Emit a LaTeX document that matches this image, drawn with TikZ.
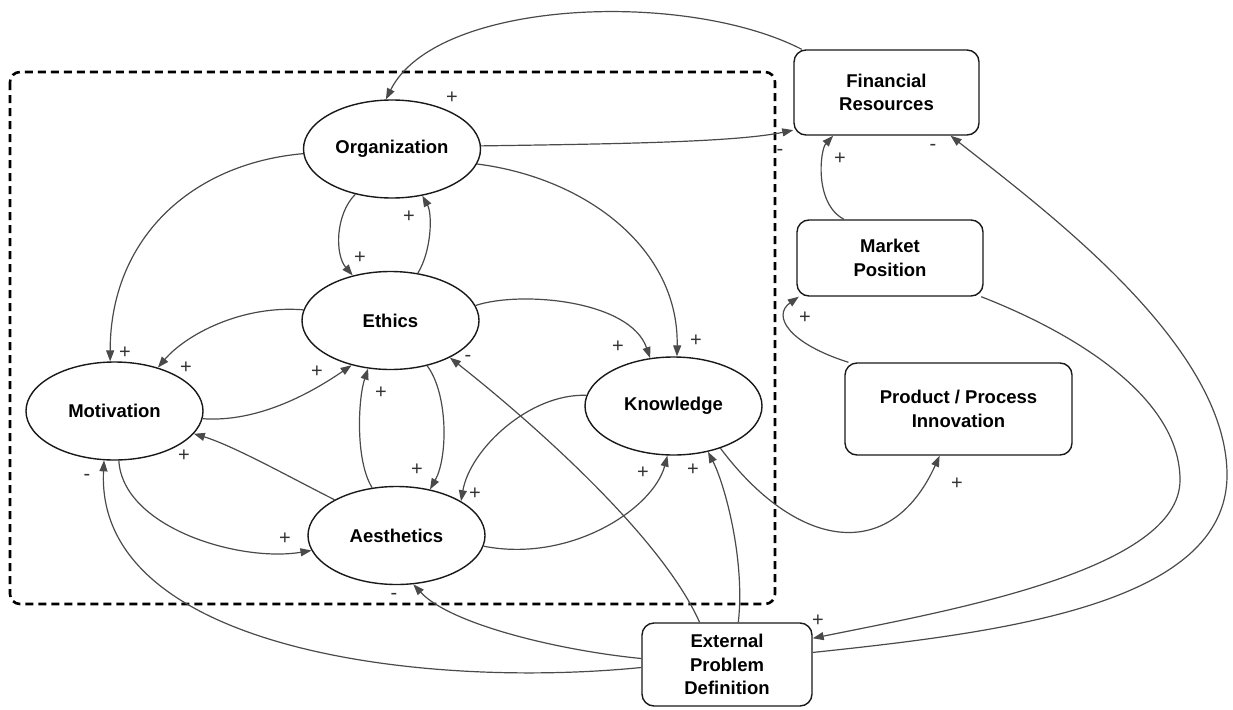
\documentclass[tikz,border=0pt]{standalone}
\usepackage{fontspec}
\setmainfont{Liberation Sans}
\usetikzlibrary{shapes.geometric,arrows.meta}
\definecolor{edgegray}{HTML}{4A4A4A}
\definecolor{signgray}{HTML}{333333}
\begin{document}
\begin{tikzpicture}[x=1pt,y=-1pt,
  factor/.style={ellipse,draw=black!90,line width=1.4pt,minimum width=177pt,minimum height=98pt,
    inner sep=0pt,font=\fontsize{18.5}{22}\selectfont\bfseries},
  boxnode/.style={rectangle,rounded corners=12pt,draw=black!90,line width=1.4pt,inner sep=0pt,
    align=center,font=\fontsize{18.5}{23.5}\selectfont\bfseries},
  link/.style={draw=edgegray,line width=1.2pt,-{Triangle[length=11pt,width=8pt]}},
  sign/.style={text=signgray,font=\fontsize{20}{20}\selectfont,inner sep=0pt},
  frame/.style={draw=black,line width=2.6pt,dash pattern=on 8pt off 5pt,rounded corners=10pt},
]
\useasboundingbox[fill=white] (0,0) rectangle (1233,709);

% internal system boundary
\draw[frame] (10,72) rectangle (775,604);

% internal factors
\node[factor] (org)  at (392,149)   {Organization};
\node[factor] (eth)  at (390.5,320.5) {Ethics};
\node[factor] (mot)  at (114.5,411) {Motivation};
\node[factor] (know) at (673.5,406) {Knowledge};
\node[factor] (aes)  at (396.5,535.5) {Aesthetics};

% external factors
\node[boxnode,minimum width=185pt,minimum height=85pt] (fr)  at (886.5,92.5) {Financial\\Resources};
\node[boxnode,minimum width=186pt,minimum height=76pt] (mp)  at (890,258)    {Market\\Position};
\node[boxnode,minimum width=227pt,minimum height=92pt] (ppi) at (958.5,409)  {Product / Process\\Innovation};
\node[boxnode,minimum width=170pt,minimum height=83pt] (epd) at (727,664.5)  {External\\Problem\\Definition};

% bend points of the long outer loops
\coordinate (loopfr) at (1227,475);
\coordinate (loopmp) at (1180,480);

% links among external factors
\draw[link] (fr.153) .. controls +(-117,-60) and +(50,-100) .. (org.97);
\draw[link] (org.2) .. controls +(138,-2) and +(-58,12) .. (fr.202);
\draw[link] (mp.140) .. controls +(-30,-16) and +(-13,14) .. (fr.219);
\draw[link] (epd.8) .. controls +(189,-20) and +(0,130) .. (loopfr)
                    .. controls +(0,-130) and +(95,75) .. (fr.-34);
\draw[link] (mp.-23) .. controls +(100,39) and +(0,-80) .. (loopmp)
                     .. controls +(0,90) and +(138,-28) .. (epd.17);
\draw[link] (ppi.157) .. controls +(-60,-19) and +(-27,19) .. (mp.203);
\draw[link] (know.-42) .. controls +(75,100) and +(-50,110) .. (ppi.-112);

% links among internal factors
\draw[link] (org.183) .. controls +(-113,10) and +(0,-122) .. (mot.95);
\draw[link] (org.-10) .. controls +(110,14) and +(2,-107) .. (know.86);
\draw[link] (org.231) .. controls +(-20,20) and +(-18,-21) .. (eth.130);
\draw[link] (eth.60) .. controls +(14,-23) and +(10,18) .. (org.-57);
\draw[link] (eth.173) .. controls +(-63,-5) and +(27,-32) .. (mot.45);
\draw[link] (mot.-5) .. controls +(57,4) and +(-38,26) .. (eth.229);
\draw[link] (eth.10) .. controls +(45,-15) and +(-20,-58) .. (know.116);
\draw[link] (aes.117) .. controls +(-17,-27) and +(-10,30) .. (eth.245);
\draw[link] (eth.-51) .. controls +(21,28) and +(18,-32) .. (aes.54);
\draw[link] (know.173) .. controls +(-57,-2) and +(9,-52) .. (aes.28);
\draw[link] (aes.150) .. controls +(-40,-20) and +(40,12) .. (mot.-16);
\draw[link] (mot.-85) .. controls +(4,67) and +(-72,12) .. (aes.190);
\draw[link] (aes.-7) .. controls +(87,17) and +(-14,53) .. (know.-97);

% external problem definition acting on the internal factors
\draw[link] (epd.123) .. controls +(-40,-90) and +(70,55) .. (eth.-32);
\draw[link] (epd.75) .. controls +(7,-62) and +(17,33) .. (know.-53);
\draw[link] (epd.176) .. controls +(-82,-8) and +(37,40) .. (aes.-71);
\draw[link] (epd.182) .. controls +(-222,22) and +(-9,188) .. (mot.-102);

% polarity signs
\node[sign] (s01) at (452,98)  {+};
\node[sign] (s02) at (780,152) {-};
\node[sign] (s03) at (840,159) {+};
\node[sign] (s04) at (933,147) {-};
\node[sign] (s05) at (805,318) {+};
\node[sign] (s06) at (957,484) {+};
\node[sign] (s07) at (818,621) {+};
\node[sign] (s08) at (125,353) {+};
\node[sign] (s09) at (696,341) {+};
\node[sign] (s10) at (360,258) {+};
\node[sign] (s11) at (409,217) {+};
\node[sign] (s12) at (186,368) {+};
\node[sign] (s13) at (317,372) {+};
\node[sign] (s14) at (618,347) {+};
\node[sign] (s15) at (381,393) {+};
\node[sign] (s16) at (417,470) {+};
\node[sign] (s17) at (475,494) {+};
\node[sign] (s18) at (184,456) {+};
\node[sign] (s19) at (285,539) {+};
\node[sign] (s20) at (643,473) {+};
\node[sign] (s21) at (468,358) {-};
\node[sign] (s22) at (693,470) {+};
\node[sign] (s23) at (394,596) {-};
\node[sign] (s24) at (87,477)  {-};
\end{tikzpicture}
\end{document}
